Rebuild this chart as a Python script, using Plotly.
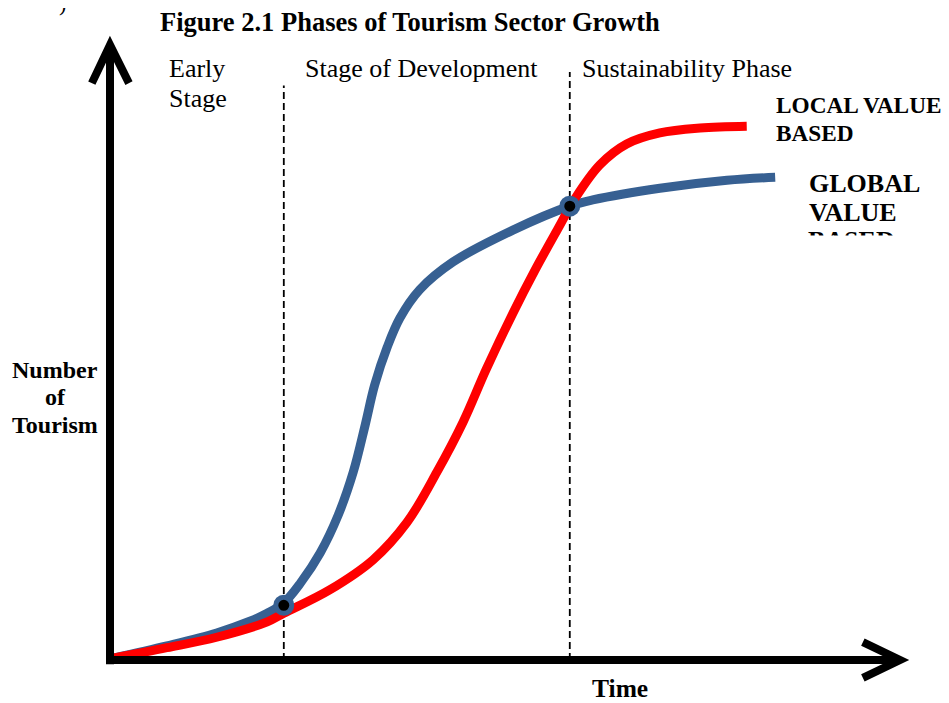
import plotly.graph_objects as go

# time / number-of-tourism units (0..100 on both axes)
blue_t = [0.4, 7.2, 13.5, 17.7, 19.9, 22.0, 24.1, 26.6, 28.9, 30.8, 32.3, 33.5, 35.1,
          36.7, 39.2, 43.4, 51.0, 58.2, 61.1, 69.6, 78.1, 84.2]
blue_v = [0.3, 2.3, 4.4, 6.3, 7.6, 9.3, 12.5, 17.4, 23.6, 30.6, 38.2, 44.7, 50.9,
          55.6, 60.2, 64.7, 69.9, 73.8, 74.8, 76.7, 78.0, 78.5]
red_t = [0.4, 7.2, 13.5, 19.9, 22.0, 27.8, 33.3, 37.6, 41.4, 44.7, 47.6, 51.0,
         53.8, 56.6, 58.9, 62.0, 65.4, 69.6, 74.7, 80.6]
red_v = [0.3, 2.0, 3.7, 6.2, 7.6, 11.4, 16.3, 22.4, 30.6, 38.7, 47.2, 56.4,
         63.4, 69.9, 75.1, 80.5, 83.9, 85.7, 86.5, 86.8]
cross_t = [22.0, 58.2]
cross_v = [8.9, 73.8]
phase_edges = [22.0, 58.2]
phase_tops = [93.4, 95.6]

W, H = 949, 703
OFF = 8  # page body margin
FW, FH = W - OFF, H - OFF
SERIF = "Liberation Serif"
BLUE = "#376092"
RED = "#FF0000"

# axis frame: origin at pixel (110, 660), 7.9 px per time unit, 6.15 px per value unit
OX, OY = 110 - OFF, 660 - OFF
x_range = [-OX / 7.9, (FW - OX) / 7.9]
y_range = [(OY - FH) / 6.15, OY / 6.15]


def px(x):
    return (x - OFF) / FW


def py(y):
    return 1 - (y - OFF) / FH


fig = go.Figure()
fig.add_trace(go.Scatter(x=blue_t, y=blue_v, mode="lines", line=dict(color=BLUE, width=9, shape="spline", smoothing=1.0),
                         hoverinfo="skip"))
fig.add_trace(go.Scatter(x=red_t, y=red_v, mode="lines", line=dict(color=RED, width=9, shape="spline", smoothing=1.0),
                         hoverinfo="skip"))
fig.add_trace(go.Scatter(x=cross_t, y=cross_v, mode="markers",
                         marker=dict(size=16, color="black", line=dict(color=BLUE, width=5)), hoverinfo="skip"))
# partly hidden third label line
fig.add_trace(go.Scatter(x=[(808 - 110) / 7.9], y=[(660 - 242) / 6.15], mode="text", text=["<b>BASED</b>"],
                         textposition="middle right", textfont=dict(family=SERIF, size=26, color="black"),
                         hoverinfo="skip"))

shapes = []
for t, top in zip(phase_edges, phase_tops):
    shapes.append(dict(type="line", xref="x", yref="y", x0=t, x1=t, y0=0, y1=top, layer="below",
                       line=dict(color="black", width=1.8, dash="7px,4px")))
# axes with open arrow heads
shapes.append(dict(type="line", xref="x", yref="y", x0=0, x1=0, y0=-0.7, y1=99.5, line=dict(color="black", width=8)))
shapes.append(dict(type="line", xref="x", yref="y", x0=-0.5, x1=99.5, y0=0, y1=0, line=dict(color="black", width=8)))
shapes.append(dict(type="path", xref="x", yref="y", path="M -2.3,93.8 L 0,100 L 2.4,93.8",
                   line=dict(color="black", width=8)))
shapes.append(dict(type="path", xref="x", yref="y", path="M 95.3,2.9 L 100,0 L 95.3,-2.9",
                   line=dict(color="black", width=8)))
# white mask clipping the last GLOBAL label line
shapes.append(dict(type="rect", xref="paper", yref="paper", x0=px(790), x1=px(949), y0=py(290), y1=py(235.5),
                   layer="above", fillcolor="white", line=dict(width=0)))


def label(text, x, y, size, bold=False, xanchor="left"):
    return dict(text=f"<b>{text}</b>" if bold else text, x=px(x), y=py(y), xref="paper", yref="paper",
                xanchor=xanchor, yanchor="middle", showarrow=False, borderpad=0,
                font=dict(family=SERIF, size=size, color="black"))


annotations = [
    label("Figure 2.1 Phases of Tourism Sector Growth", 410, 22, 26.5, bold=True, xanchor="center"),
    label(")", 58, 4, 22),
    label("Early", 168, 68, 26),
    label("Stage", 168, 99, 26),
    label("Stage of Development", 304, 68, 26),
    label("Sustainability Phase", 581, 68, 26),
    label("LOCAL VALUE", 775, 105, 23.3, bold=True),
    label("BASED", 775, 133, 23.3, bold=True),
    label("GLOBAL", 808, 183, 26, bold=True),
    label("VALUE", 808, 213, 26, bold=True),
    label("Number", 55, 370, 24, bold=True, xanchor="center"),
    label("of", 55, 397, 24, bold=True, xanchor="center"),
    label("Tourism", 55, 425, 24, bold=True, xanchor="center"),
    label("Time", 620, 688, 25.5, bold=True, xanchor="center"),
]

fig.update_layout(
    width=FW, height=FH, margin=dict(l=0, r=0, t=0, b=0),
    paper_bgcolor="white", plot_bgcolor="white", showlegend=False,
    xaxis=dict(range=x_range, visible=False, fixedrange=True),
    yaxis=dict(range=y_range, visible=False, fixedrange=True),
    shapes=shapes, annotations=annotations,
)
fig.write_html("out.html")
